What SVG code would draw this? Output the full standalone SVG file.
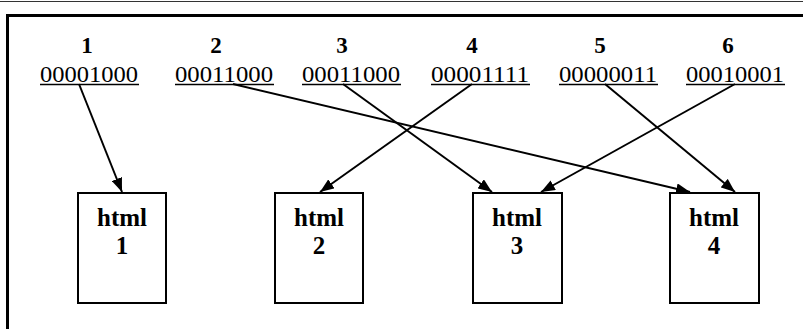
<svg xmlns="http://www.w3.org/2000/svg" width="803" height="329" viewBox="0 0 803 329">
<style>
.num{font-family:"Liberation Serif",serif;font-weight:bold;font-size:23px;text-anchor:middle;fill:#000}
.bin{font-family:"Liberation Serif",serif;font-size:23px;text-anchor:middle;fill:#000}
.ul{stroke:#000;stroke-width:1.5}
.box rect{fill:#fff;stroke:#000;stroke-width:2}
.box text{font-family:"Liberation Serif",serif;font-weight:bold;font-size:25px;text-anchor:middle;fill:#000}
.edge{stroke:#000;stroke-width:2;fill:none;marker-end:url(#ah)}
</style>
<defs>
<marker id="ah" viewBox="0 0 14 11" refX="14" refY="5.5" markerWidth="14" markerHeight="11" markerUnits="userSpaceOnUse" orient="auto">
<path d="M0,0 L14,5.5 L0,11 z" fill="#000"/>
</marker>
</defs>
<rect width="803" height="329" fill="#fff"/>
<line x1="0" y1="1.5" x2="803" y2="1.5" stroke="#333" stroke-width="1"/>
<rect x="7.5" y="15.5" width="820" height="340" fill="none" stroke="#000" stroke-width="3"/>
<g id="labels">
<g id="label1"><text class="num" x="87" y="53">1</text><text class="bin" x="89" y="82" textLength="98" lengthAdjust="spacingAndGlyphs">00001000</text><line class="ul" x1="40" y1="84.5" x2="139" y2="84.5"/></g>
<g id="label2"><text class="num" x="216" y="53">2</text><text class="bin" x="224" y="82" textLength="98" lengthAdjust="spacingAndGlyphs">00011000</text><line class="ul" x1="175" y1="84.5" x2="274" y2="84.5"/></g>
<g id="label3"><text class="num" x="342" y="53">3</text><text class="bin" x="351" y="82" textLength="98" lengthAdjust="spacingAndGlyphs">00011000</text><line class="ul" x1="302" y1="84.5" x2="401" y2="84.5"/></g>
<g id="label4"><text class="num" x="472" y="53">4</text><text class="bin" x="480" y="82" textLength="98" lengthAdjust="spacingAndGlyphs">00001111</text><line class="ul" x1="431" y1="84.5" x2="530" y2="84.5"/></g>
<g id="label5"><text class="num" x="600" y="53">5</text><text class="bin" x="608" y="82" textLength="98" lengthAdjust="spacingAndGlyphs">00000011</text><line class="ul" x1="559" y1="84.5" x2="658" y2="84.5"/></g>
<g id="label6"><text class="num" x="728" y="53">6</text><text class="bin" x="735" y="82" textLength="98" lengthAdjust="spacingAndGlyphs">00010001</text><line class="ul" x1="686" y1="84.5" x2="785" y2="84.5"/></g>
</g>
<g id="html1" class="box"><rect x="78" y="193" width="88" height="110"/><text x="122" y="226">html</text><text x="122" y="254">1</text></g>
<g id="html2" class="box"><rect x="275" y="193" width="88" height="110"/><text x="319" y="226">html</text><text x="319" y="254">2</text></g>
<g id="html3" class="box"><rect x="473" y="193" width="89" height="110"/><text x="517" y="226">html</text><text x="517" y="254">3</text></g>
<g id="html4" class="box"><rect x="670" y="193" width="89" height="110"/><text x="714" y="226">html</text><text x="714" y="254">4</text></g>
<g id="connectors">
<line class="edge" x1="79" y1="84" x2="122" y2="192"/>
<line class="edge" x1="233" y1="84" x2="690" y2="192"/>
<line class="edge" x1="343" y1="84" x2="492" y2="192"/>
<line class="edge" x1="472" y1="84" x2="320" y2="192"/>
<line class="edge" x1="605" y1="84" x2="735" y2="192"/>
<line class="edge" x1="735" y1="84" x2="541" y2="192"/>
</g>
</svg>
